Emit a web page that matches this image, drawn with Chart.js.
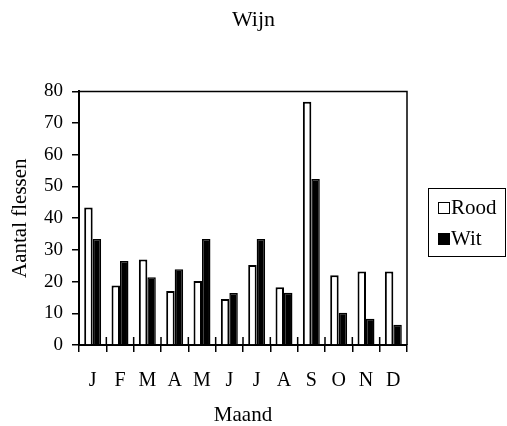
<!DOCTYPE html>
<html>
<head>
<meta charset="utf-8">
<script src="https://cdn.jsdelivr.net/npm/chart.js@4/dist/chart.umd.min.js"></script>
<style>
  html, body { margin: 0; padding: 0; background: #fff; }
  #wrap { position: relative; width: 507px; height: 426px; }
  #legend {
    position: absolute; left: 428px; top: 188px; width: 78px; height: 69px;
    border: 1.5px solid #000; font-family: "Liberation Serif", serif; font-size: 21px;
    color: #000; box-sizing: border-box;
  }
  #legend div { position: absolute; left: 9px; height: 22px; line-height: 22px; white-space: nowrap; }
  #legend span.sw { display: inline-block; width: 12px; height: 12px; border: 1.5px solid #000; box-sizing: border-box; margin-right: 1px; vertical-align: 0px; }
</style>
</head>
<body>
<div id="wrap">
  <canvas id="wijnChart" width="507" height="426"></canvas>
  <div id="legend">
    <div style="top:7px"><span class="sw" style="background:#fff"></span>Rood</div>
    <div style="top:38px"><span class="sw" style="background:#000"></span>Wit</div>
  </div>
</div>
<script>
// data uit de grafiek
var maanden = ['J', 'F', 'M', 'A', 'M', 'J', 'J', 'A', 'S', 'O', 'N', 'D'];
var rood = [43.4, 18.8, 27, 17, 20.2, 14.5, 25.2, 18.2, 76.7, 22, 23.2, 23.2];
var wit = [33.4, 26.5, 21.4, 23.9, 33.4, 16.4, 33.4, 16.5, 52.4, 10.2, 8.3, 6.4];

var lettertype = '"Liberation Serif", serif';

// kader om het plotgebied + streepjes die door de x-as steken
var kaderPlugin = {
    id: 'kader',
    afterDatasetsDraw: function (chart) {
        var ctx = chart.ctx;
        var ca = chart.chartArea;
        var x = chart.scales.x;
        ctx.save();
        ctx.strokeStyle = '#000';
        ctx.lineWidth = 1.5;
        ctx.beginPath();
        ctx.moveTo(ca.left, ca.top);
        ctx.lineTo(ca.right, ca.top);
        ctx.lineTo(ca.right, ca.bottom);
        var stap = (x.right - x.left) / maanden.length;
        for (var i = 0; i <= maanden.length; i++) {
            var px = x.left + i * stap;
            ctx.moveTo(px, ca.bottom);
            ctx.lineTo(px, ca.bottom - 8);
        }
        ctx.stroke();
        ctx.restore();
    }
};

new Chart(document.getElementById('wijnChart').getContext('2d'), {
    type: 'bar',
    data: {
        labels: maanden,
        datasets: [{
            label: 'Rood',
            data: rood,
            backgroundColor: '#fff',
            borderColor: '#000',
            borderWidth: 2
        }, {
            label: 'Wit',
            data: wit,
            backgroundColor: '#000',
            borderColor: '#000',
            borderWidth: 1.5
        }]
    },
    options: {
        responsive: false,
        animation: false,
        events: [],
        layout: { padding: 0 },
        datasets: { bar: { categoryPercentage: 0.62, barPercentage: 1 } },
        plugins: {
            legend: { display: false },
            tooltip: { enabled: false },
            title: {
                display: true,
                text: 'Wijn',
                color: '#000',
                font: { family: lettertype, size: 22, weight: 'normal' },
                padding: { top: 7, bottom: 58 }
            }
        },
        scales: {
            x: {
                afterFit: function (s) { s.height = 81; },
                grid: { offset: true, drawOnChartArea: false, color: '#000', lineWidth: 1.5, tickLength: 7 },
                border: { color: '#000', width: 2 },
                ticks: { color: '#000', padding: 17, maxRotation: 0, autoSkip: false, font: { family: lettertype, size: 20 } },
                title: {
                    display: true, text: 'Maand', color: '#000',
                    font: { family: lettertype, size: 21 }, padding: { top: 0, bottom: -2 }
                }
            },
            y: {
                min: 0, max: 80,
                afterFit: function (s) { s.width = 79; },
                grid: { drawOnChartArea: false, color: '#000', lineWidth: 1.5, tickLength: 7 },
                border: { color: '#000', width: 2 },
                ticks: { stepSize: 10, color: '#000', padding: 9, font: { family: lettertype, size: 19 } },
                title: {
                    display: true, text: 'Aantal flessen', color: '#000',
                    font: { family: lettertype, size: 21 }, padding: { top: 8, bottom: 0 }
                }
            },
            // lege as rechts: ruimte voor de legenda
            rechts: {
                position: 'right',
                afterFit: function (s) { s.width = 100; },
                grid: { display: false },
                border: { display: false },
                ticks: { display: false }
            }
        }
    },
    plugins: [kaderPlugin]
});
</script>
</body>
</html>
